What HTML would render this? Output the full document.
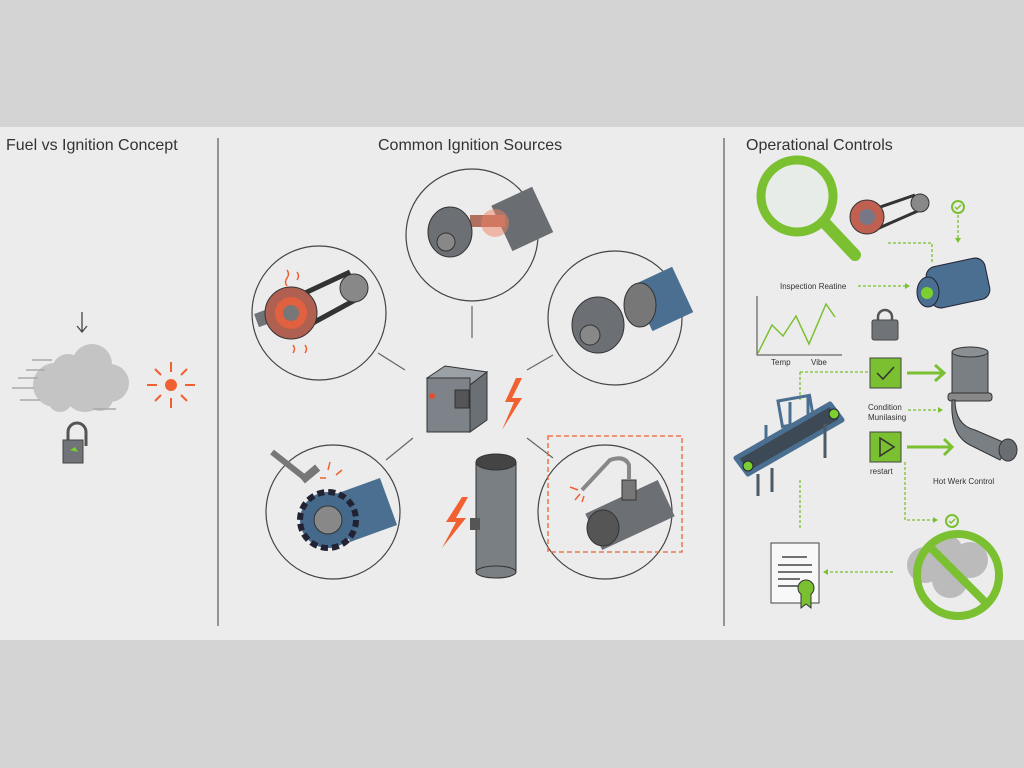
<!DOCTYPE html>
<html><head><meta charset="utf-8"><style>
body{margin:0;width:1024px;height:768px;background:#d4d4d4;overflow:hidden;font-family:"Liberation Sans",sans-serif}
svg{display:block}
</style></head><body>
<svg width="1024" height="768" viewBox="0 0 1024 768" xmlns="http://www.w3.org/2000/svg" font-family="Liberation Sans, sans-serif">
<rect x="0" y="0" width="1024" height="768" fill="#d4d4d4"/>
<rect x="0" y="127" width="1024" height="513" fill="#ececec"/>
<line x1="218" y1="138" x2="218" y2="626" stroke="#777" stroke-width="1.5"/>
<line x1="724" y1="138" x2="724" y2="626" stroke="#777" stroke-width="1.5"/>
<text x="6" y="150" font-size="16" fill="#333">Fuel vs Ignition Concept</text>
<text x="378" y="150" font-size="16" fill="#333">Common Ignition Sources</text>
<text x="746" y="150" font-size="16" fill="#333">Operational Controls</text>

<!-- Left panel -->
<path d="M82 312 V332 M77 326 L82 332 L87 326" stroke="#444" stroke-width="1.3" fill="none"/>
<g fill="#c4c4c4"><circle cx="55" cy="385" r="22"/><circle cx="68" cy="370" r="16"/><circle cx="92" cy="364" r="20"/><circle cx="110" cy="383" r="19"/><circle cx="85" cy="390" r="22"/><circle cx="60" cy="400" r="12"/><circle cx="100" cy="398" r="13"/></g>
<g stroke="#aaa" stroke-width="1.5"><line x1="32" y1="360" x2="52" y2="360"/><line x1="26" y1="370" x2="45" y2="370"/><line x1="18" y1="378" x2="38" y2="378"/><line x1="12" y1="388" x2="34" y2="388"/><line x1="20" y1="400" x2="40" y2="400"/><line x1="93" y1="409" x2="116" y2="409"/></g>
<circle cx="171" cy="385" r="6" fill="#f06030"/>
<g stroke="#f06030" stroke-width="2"><line x1="171" y1="362" x2="171" y2="372"/><line x1="171" y1="398" x2="171" y2="408"/><line x1="147" y1="385" x2="157" y2="385"/><line x1="185" y1="385" x2="195" y2="385"/><line x1="155" y1="369" x2="161" y2="375"/><line x1="181" y1="395" x2="187" y2="401"/><line x1="181" y1="375" x2="187" y2="369"/><line x1="155" y1="401" x2="161" y2="395"/></g>
<path d="M68 440 V432 a9 9 0 0 1 18 0 V446" stroke="#555" stroke-width="3" fill="none"/>
<rect x="63" y="440" width="20" height="23" fill="#707478" stroke="#444"/>
<path d="M70 450 l5 -3 l3 5z" fill="#7bd030"/>

<!-- Center connectors -->
<g stroke="#666" stroke-width="1.2"><line x1="472" y1="306" x2="472" y2="338"/><line x1="378" y1="353" x2="405" y2="370"/><line x1="527" y1="370" x2="553" y2="355"/><line x1="386" y1="460" x2="413" y2="438"/><line x1="527" y1="438" x2="553" y2="458"/></g>
<g fill="#ececec" stroke="#444" stroke-width="1.2"><circle cx="472" cy="235" r="66"/><circle cx="319" cy="313" r="67"/><circle cx="615" cy="318" r="67"/><circle cx="333" cy="512" r="67"/><circle cx="605" cy="512" r="67"/></g>
<!-- top circle -->
<rect x="500" y="195" width="45" height="50" fill="#6a6e73" transform="rotate(-25 520 220)"/>
<rect x="470" y="215" width="35" height="12" fill="#b07060"/>
<circle cx="495" cy="223" r="14" fill="#f08060" opacity=".5"/>
<ellipse cx="450" cy="232" rx="22" ry="25" fill="#6c7075" stroke="#333"/>
<circle cx="446" cy="242" r="9" fill="#888" stroke="#333"/>
<!-- left circle -->
<path d="M290 300 L350 272 M300 330 L355 300" stroke="#333" stroke-width="5"/>
<circle cx="354" cy="288" r="14" fill="#888" stroke="#333"/>
<rect x="255" y="305" width="55" height="14" fill="#707479" transform="rotate(-20 280 312)"/>
<circle cx="291" cy="313" r="26" fill="#b06050" stroke="#333"/>
<circle cx="291" cy="313" r="16" fill="#e06040"/>
<circle cx="291" cy="313" r="8" fill="#777"/>
<g stroke="#f06030" stroke-width="1.5" fill="none"><path d="M287 270 q3 4 0 8 q-3 4 0 8"/><path d="M297 272 q3 4 0 8"/><path d="M293 345 q3 4 0 8"/><path d="M305 345 q3 4 0 8"/></g>
<!-- right circle -->
<rect x="640" y="275" width="45" height="50" fill="#4a6f90" transform="rotate(-25 660 300)"/>
<ellipse cx="640" cy="305" rx="16" ry="22" fill="#777" stroke="#333"/>
<ellipse cx="598" cy="325" rx="26" ry="28" fill="#6c7075" stroke="#333"/>
<circle cx="590" cy="335" r="10" fill="#888" stroke="#333"/>
<!-- bottom-left -->
<line x1="272" y1="452" x2="305" y2="478" stroke="#777" stroke-width="6"/>
<rect x="300" y="470" width="20" height="8" fill="#777" transform="rotate(-40 310 474)"/>
<rect x="340" y="485" width="50" height="50" fill="#4a6f90" transform="rotate(-20 365 510)"/>
<circle cx="328" cy="520" r="28" fill="#45698a" stroke="#223" stroke-dasharray="7 4" stroke-width="6"/>
<circle cx="328" cy="520" r="14" fill="#888" stroke="#333"/>
<g stroke="#f06030" stroke-width="1.5"><line x1="330" y1="462" x2="328" y2="470"/><line x1="336" y1="475" x2="342" y2="470"/><line x1="326" y1="478" x2="320" y2="478"/></g>
<!-- bottom-right -->
<rect x="548" y="436" width="134" height="116" fill="none" stroke="#f06030" stroke-width="1.3" stroke-dasharray="5 3"/>
<rect x="590" y="495" width="80" height="40" fill="#6c7075" transform="rotate(-25 630 515)"/>
<ellipse cx="603" cy="528" rx="16" ry="18" fill="#555" stroke="#333"/>
<rect x="622" y="480" width="14" height="20" fill="#777" stroke="#333"/>
<path d="M629 480 V465 Q625 455 610 460 L582 490" stroke="#888" stroke-width="4" fill="none"/>
<g stroke="#f06030" stroke-width="1.5"><line x1="570" y1="487" x2="578" y2="490"/><line x1="575" y1="500" x2="580" y2="494"/><line x1="582" y1="502" x2="584" y2="496"/></g>
<!-- control box -->
<path d="M427 378 L445 366 L487 372 L470 385z" fill="#9aa0a6" stroke="#333"/>
<path d="M470 385 L487 372 L487 420 L470 432z" fill="#6a7076" stroke="#333"/>
<rect x="427" y="378" width="43" height="54" fill="#7d8389" stroke="#333"/>
<rect x="455" y="390" width="14" height="18" fill="#555" stroke="#333"/>
<circle cx="432" cy="396" r="3" fill="#e05030"/>
<path d="M516 378 L505 402 L514 402 L502 430 L522 398 L512 398 L522 378z" fill="#f06030"/>
<path d="M462 497 L446 522 L456 522 L442 548 L466 518 L456 518 L468 497z" fill="#f06030"/>
<!-- pipe -->
<rect x="476" y="462" width="40" height="110" fill="#7a7f84" stroke="#333"/>
<ellipse cx="496" cy="462" rx="20" ry="8" fill="#444" stroke="#333"/>
<ellipse cx="496" cy="572" rx="20" ry="6" fill="#7a7f84" stroke="#333"/>
<rect x="470" y="518" width="10" height="12" fill="#555"/>

<!-- Right panel -->
<circle cx="797" cy="196" r="36" fill="#e8ece8" stroke="#7ac030" stroke-width="9"/>
<line x1="824" y1="222" x2="855" y2="255" stroke="#7ac030" stroke-width="12" stroke-linecap="round"/>
<path d="M860 214 L915 195 M870 232 L920 210" stroke="#333" stroke-width="3"/>
<circle cx="920" cy="203" r="9" fill="#888" stroke="#333"/>
<circle cx="867" cy="217" r="17" fill="#c06050" stroke="#333"/>
<circle cx="867" cy="217" r="8" fill="#778"/>
<circle cx="958" cy="207" r="6" fill="none" stroke="#7ac030" stroke-width="2"/>
<path d="M955 207 l2 2 l4 -4" stroke="#7ac030" stroke-width="1.5" fill="none"/>
<g stroke="#7ac030" stroke-width="1.3" stroke-dasharray="3 2" fill="none"><path d="M888 243 H932 V263"/><path d="M958 215 V240"/><path d="M858 286 H905"/><path d="M800 372 H870"/><path d="M800 372 V400"/><path d="M908 410 H940"/><path d="M905 462 V520 H935"/><path d="M893 572 H827"/><path d="M800 480 V528"/></g>
<path d="M955 238 l3 5 l3 -5z M905 283 l5 3 l-5 3z M938 407 l5 3 l-5 3z M933 517 l5 3 l-5 3z M828 569 l-5 3 l5 3z" fill="#7ac030"/>
<rect x="928" y="262" width="60" height="42" rx="10" fill="#4a6f90" stroke="#223" transform="rotate(-12 958 283)"/>
<ellipse cx="928" cy="292" rx="11" ry="15" fill="#4a6f90" stroke="#223"/>
<circle cx="927" cy="293" r="6" fill="#7bd030"/>
<text x="780" y="289" font-size="8" fill="#333">Inspection Reatine</text>
<path d="M757 296 V355 H842" stroke="#444" fill="none"/>
<polyline points="758,353 772,325 783,336 796,316 809,344 826,304 835,317" fill="none" stroke="#7ac030" stroke-width="1.5"/>
<text x="771" y="365" font-size="8" fill="#333">Temp</text><text x="811" y="365" font-size="8" fill="#333">Vibe</text>
<path d="M878 322 v-5 a7 7 0 0 1 14 0 v5" stroke="#555" stroke-width="2.5" fill="none"/>
<rect x="872" y="320" width="26" height="20" rx="2" fill="#707478" stroke="#444"/>
<rect x="870" y="358" width="31" height="30" fill="#7ac030" stroke="#444"/>
<path d="M877 373 l6 6 l11 -12" stroke="#333" stroke-width="1.5" fill="none"/>
<rect x="870" y="432" width="31" height="30" fill="#7ac030" stroke="#444"/>
<path d="M880 438 v18 l14 -9z" fill="none" stroke="#333" stroke-width="1.5"/>
<path d="M907 373 H944 M935 365 L944 373 L935 381 M907 447 H952 M944 439 L952 447 L944 455" stroke="#7ac030" stroke-width="3" fill="none"/>
<text x="868" y="410" font-size="8" fill="#333">Condition</text><text x="868" y="420" font-size="8" fill="#333">Munilasing</text>
<text x="870" y="474" font-size="8" fill="#333">restart</text>
<text x="933" y="484" font-size="8" fill="#333">Hot Werk Control</text>
<rect x="952" y="352" width="36" height="48" fill="#7a7f84" stroke="#333"/>
<ellipse cx="970" cy="352" rx="18" ry="5" fill="#8a8f94" stroke="#333"/>
<rect x="948" y="393" width="44" height="8" rx="3" fill="#888" stroke="#333"/>
<path d="M955 400 Q955 425 975 430 L1010 445 L1000 460 L970 445 Q950 435 952 400z" fill="#7a7f84" stroke="#333"/>
<ellipse cx="1008" cy="450" rx="9" ry="11" fill="#6a6e73" stroke="#333"/>
<!-- conveyor -->
<path d="M766 425 V455 M790 402 V445 M808 395 V430" stroke="#4a6f90" stroke-width="3" fill="none"/>
<rect x="780" y="398" width="32" height="26" fill="none" stroke="#4a6f90" stroke-width="3" transform="rotate(-10 796 411)"/>
<path d="M736 458 L830 404 L842 420 L748 474z" fill="#3d4a55" stroke="#4a6f90" stroke-width="5" stroke-linejoin="round"/>
<circle cx="748" cy="466" r="5" fill="#7bd030" stroke="#223"/><circle cx="834" cy="414" r="5" fill="#7bd030" stroke="#223"/>
<path d="M758 474 V496 M772 468 V492 M825 424 V458" stroke="#4a5a66" stroke-width="3"/>
<circle cx="952" cy="521" r="6" fill="none" stroke="#7ac030" stroke-width="2"/>
<path d="M949 521 l2 2 l4 -4" stroke="#7ac030" stroke-width="1.5" fill="none"/>
<g fill="#bbb"><circle cx="925" cy="565" r="18"/><circle cx="945" cy="552" r="18"/><circle cx="970" cy="560" r="18"/><circle cx="950" cy="580" r="18"/></g>
<circle cx="958" cy="575" r="41" fill="none" stroke="#7ac030" stroke-width="8"/>
<line x1="930" y1="547" x2="986" y2="603" stroke="#7ac030" stroke-width="8"/>
<rect x="771" y="543" width="48" height="60" fill="#f8f8f8" stroke="#444"/>
<g stroke="#444" stroke-width="1.5"><line x1="782" y1="557" x2="807" y2="557"/><line x1="778" y1="565" x2="812" y2="565"/><line x1="778" y1="572" x2="812" y2="572"/><line x1="778" y1="579" x2="800" y2="579"/><line x1="778" y1="586" x2="798" y2="586"/></g>
<circle cx="806" cy="588" r="8" fill="#7ac030" stroke="#333"/>
<path d="M801 594 v14 l5 -4 l5 4 v-14" fill="#7ac030" stroke="#333"/>
</svg>
</body></html>
